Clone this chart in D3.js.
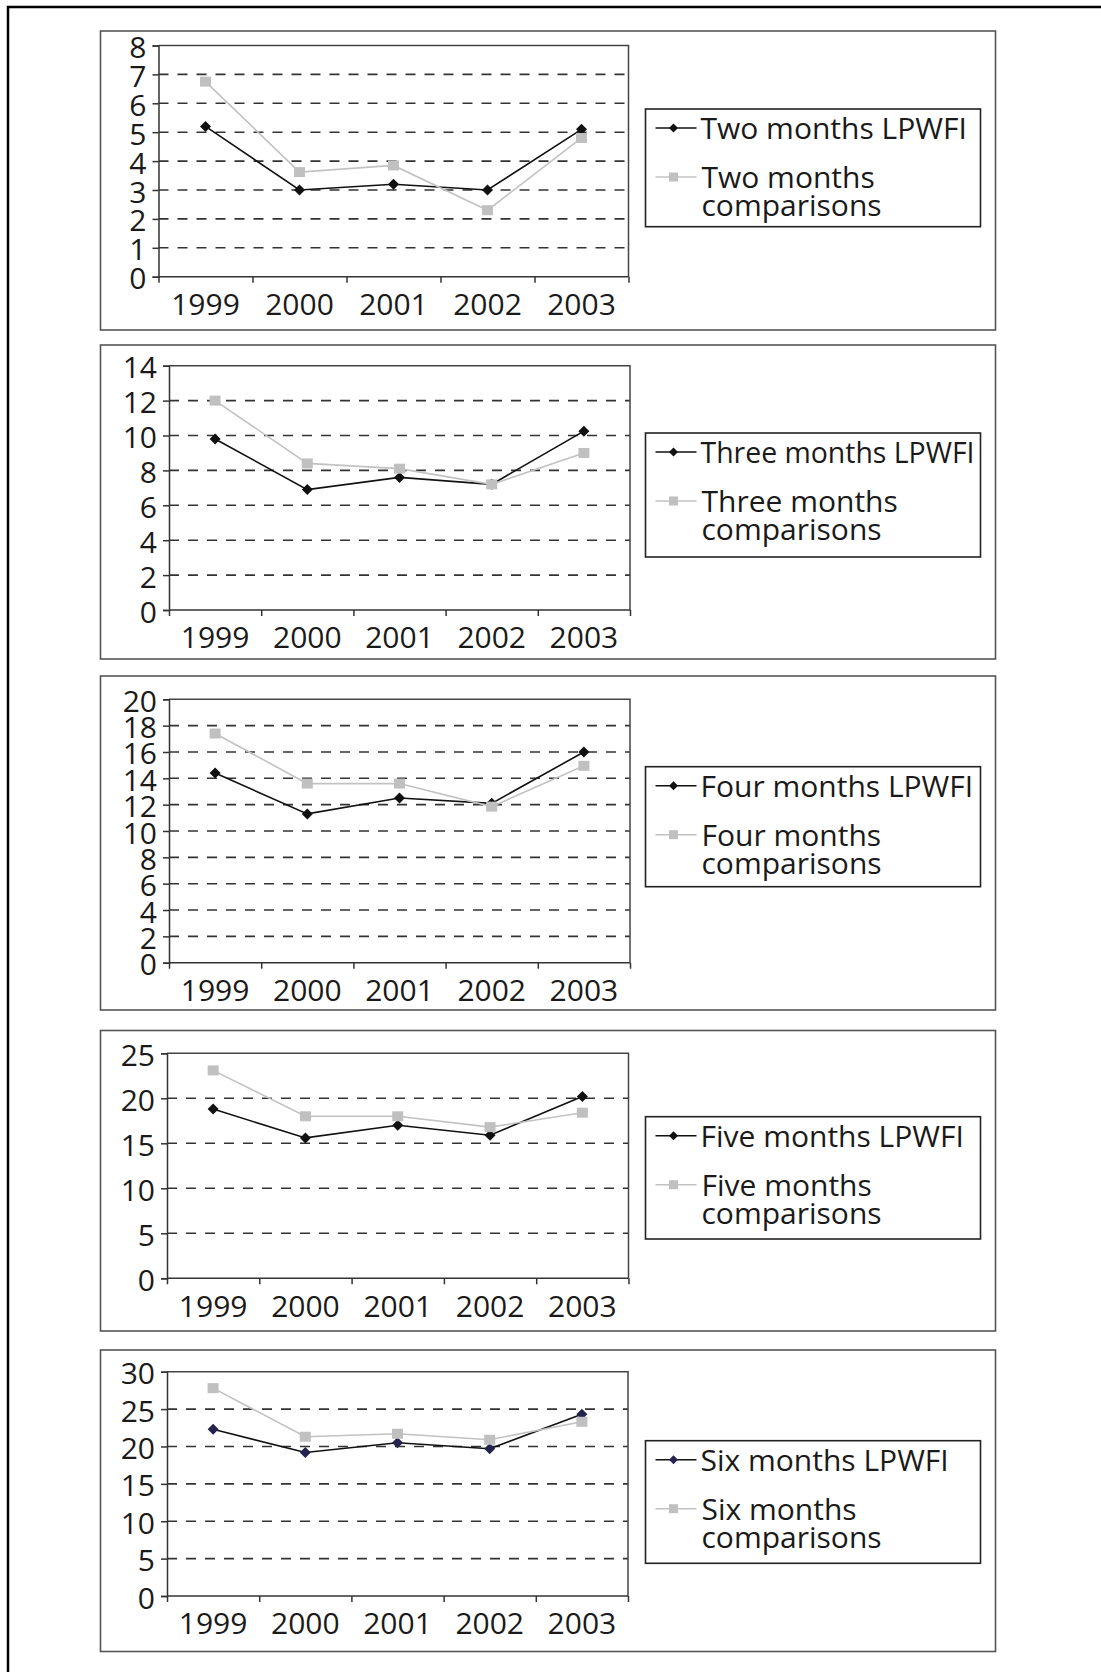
<!DOCTYPE html>
<html>
<head>
<meta charset="utf-8">
<script src="https://cdn.jsdelivr.net/npm/d3@7"></script>
<style>
  html, body { margin: 0; padding: 0; background: #fff; }
  svg { display: block; }
  text { font-family: "Open Sans", "Noto Sans", sans-serif; fill: #1a1a1a; }
</style>
</head>
<body>
<svg id="chart" width="1101" height="1672"></svg>
<script>
// ---- data ----
const years = ["1999", "2000", "2001", "2002", "2003"];
const periods = ["Two", "Three", "Four", "Five", "Six"];
const lpwfiTwo   = [5.2, 3.0, 3.2, 3.0, 5.1];
const compTwo    = [6.75, 3.62, 3.85, 2.3, 4.8];
const lpwfiThree = [9.8, 6.9, 7.6, 7.2, 10.25];
const compThree  = [12.0, 8.4, 8.1, 7.2, 9.0];
const lpwfiFour  = [14.4, 11.3, 12.5, 12.1, 16.0];
const compFour   = [17.4, 13.6, 13.6, 11.85, 14.95];
const lpwfiFive  = [18.8, 15.6, 17.0, 15.9, 20.2];
const compFive   = [23.1, 18.0, 18.0, 16.8, 18.4];
const lpwfiSix   = [22.3, 19.2, 20.5, 19.7, 24.3];
const compSix    = [27.8, 21.3, 21.7, 20.9, 23.3];
const yMax  = [8, 14, 20, 25, 30];
const yStep = [1, 2, 2, 5, 5];

const lpwfiSeries = [lpwfiTwo, lpwfiThree, lpwfiFour, lpwfiFive, lpwfiSix];
const compSeries  = [compTwo, compThree, compFour, compFive, compSix];

// ---- layout ----
const panelBox = [[31, 330], [345, 659], [676, 1010], [1030.5, 1331], [1350, 1651.5]];
const plotBox = [
  [158.5, 45.5, 628.5, 276.7],
  [169, 365.7, 630, 610],
  [169, 699.3, 630, 962.7],
  [167, 1053.3, 628.5, 1278.3],
  [167, 1371.7, 628, 1596]
];
const legendBox = [[109, 226.7], [433, 557], [766.7, 886.7], [1116.7, 1239], [1440.7, 1563.3]];
const diamondFill = ["#111", "#111", "#111", "#111", "#23234d"];

const svg = d3.select("#chart");

// outer frame
svg.append("rect")
  .attr("x", 8).attr("y", 7)
  .attr("width", 1200).attr("height", 1800)
  .attr("fill", "none").attr("stroke", "#000").attr("stroke-width", 2.5);

const diamond = (cx, cy, w, h) =>
  `M${cx - w},${cy}L${cx},${cy - h}L${cx + w},${cy}L${cx},${cy + h}Z`;

periods.forEach((p, i) => {
  const g = svg.append("g");
  const [pt, pb] = panelBox[i];
  g.append("rect")
    .attr("x", 100.5).attr("y", pt)
    .attr("width", 895).attr("height", pb - pt)
    .attr("fill", "none").attr("stroke", "#555").attr("stroke-width", 1.6);

  const [L, T, R, B] = plotBox[i];
  const x = d3.scaleBand().domain(years).range([L, R]);
  const xEdge = d3.scaleLinear().domain([0, years.length]).range([L, R]);
  const y = d3.scaleLinear().domain([0, yMax[i]]).range([B, T]);
  const ticks = d3.range(0, yMax[i] + 0.001, yStep[i]);

  // gridlines
  g.append("g").selectAll("line")
    .data(ticks.filter(t => t > 0 && t < yMax[i]))
    .join("line")
    .attr("x1", L).attr("x2", R)
    .attr("y1", d => y(d)).attr("y2", d => y(d))
    .attr("stroke", "#333").attr("stroke-width", 1.6)
    .attr("stroke-dasharray", "10,9");

  // plot border (top, right)
  g.append("path")
    .attr("d", `M${L},${T}L${R},${T}L${R},${B}`)
    .attr("fill", "none").attr("stroke", "#444").attr("stroke-width", 1.5);

  // y axis
  const ya = g.append("g").attr("transform", `translate(${L},0)`)
    .call(d3.axisLeft(y).tickValues(ticks).tickSize(6).tickPadding(6).tickFormat(d3.format("d")));
  ya.selectAll("path, line").attr("stroke", "#333").attr("stroke-width", 1.5);
  ya.selectAll("text").attr("font-size", 30).attr("dy", "0.4em")
    .style("font-family", '"Open Sans", sans-serif').attr("fill", "#1a1a1a");

  // x axis tick marks at category boundaries
  const xe = g.append("g").attr("transform", `translate(0,${B})`)
    .call(d3.axisBottom(xEdge).tickValues(d3.range(0, years.length + 1)).tickSize(6).tickFormat(""));
  xe.selectAll("path, line").attr("stroke", "#333").attr("stroke-width", 1.5);
  xe.select(".domain").attr("d", `M${L},0H${R}`);

  // x labels
  const xl = g.append("g").attr("transform", `translate(0,${B})`)
    .call(d3.axisBottom(x).tickSize(0).tickPadding(17));
  xl.select(".domain").remove();
  xl.selectAll("text").attr("font-size", 30)
    .style("font-family", '"Open Sans", sans-serif').attr("fill", "#1a1a1a");

  const cx = d => x(d) + x.bandwidth() / 2;
  const line = d3.line().x((d, k) => cx(years[k])).y(d => y(d));

  // LPWFI series
  g.append("path").datum(lpwfiSeries[i])
    .attr("d", line).attr("fill", "none")
    .attr("stroke", "#111").attr("stroke-width", 1.6);
  g.append("g").selectAll("path")
    .data(lpwfiSeries[i]).join("path")
    .attr("d", (d, k) => diamond(cx(years[k]), y(d), 5.5, 5.5))
    .attr("fill", diamondFill[i]);

  // comparisons series
  g.append("path").datum(compSeries[i])
    .attr("d", line).attr("fill", "none")
    .attr("stroke", "#c2c2c2").attr("stroke-width", 1.6);
  g.append("g").selectAll("rect")
    .data(compSeries[i]).join("rect")
    .attr("x", (d, k) => cx(years[k]) - 5.5)
    .attr("y", d => y(d) - 5)
    .attr("width", 11).attr("height", 10)
    .attr("fill", "#c0c0c0");

  // legend
  const [lt, lb] = legendBox[i];
  const lx = 645.5;
  g.append("rect")
    .attr("x", lx).attr("y", lt)
    .attr("width", 335).attr("height", lb - lt)
    .attr("fill", "#fff").attr("stroke", "#222").attr("stroke-width", 1.6);

  const e1 = lt + 19, e2 = lt + 68;
  g.append("line").attr("x1", lx + 10).attr("x2", lx + 51)
    .attr("y1", e1).attr("y2", e1).attr("stroke", "#111").attr("stroke-width", 1.6);
  g.append("path").attr("d", diamond(lx + 28, e1, 4.5, 4.5)).attr("fill", diamondFill[i]);
  const t1 = g.append("text").attr("x", lx + 55).attr("y", e1 + 11)
    .attr("font-size", 30).text(`${p} months LPWFI`);
  const maxW = 274;
  if (t1.node().getComputedTextLength() > maxW) {
    t1.attr("textLength", maxW).attr("lengthAdjust", "spacingAndGlyphs");
  }

  g.append("line").attr("x1", lx + 10).attr("x2", lx + 51)
    .attr("y1", e2).attr("y2", e2).attr("stroke", "#c2c2c2").attr("stroke-width", 1.6);
  g.append("rect").attr("x", lx + 23.5).attr("y", e2 - 4.5)
    .attr("width", 9).attr("height", 9).attr("fill", "#c0c0c0");
  const t2 = g.append("text").attr("x", lx + 56).attr("y", e2 + 11).attr("font-size", 30);
  t2.append("tspan").attr("x", lx + 56).text(`${p} months`);
  t2.append("tspan").attr("x", lx + 56).attr("dy", 28).text("comparisons");
});
</script>
</body>
</html>
